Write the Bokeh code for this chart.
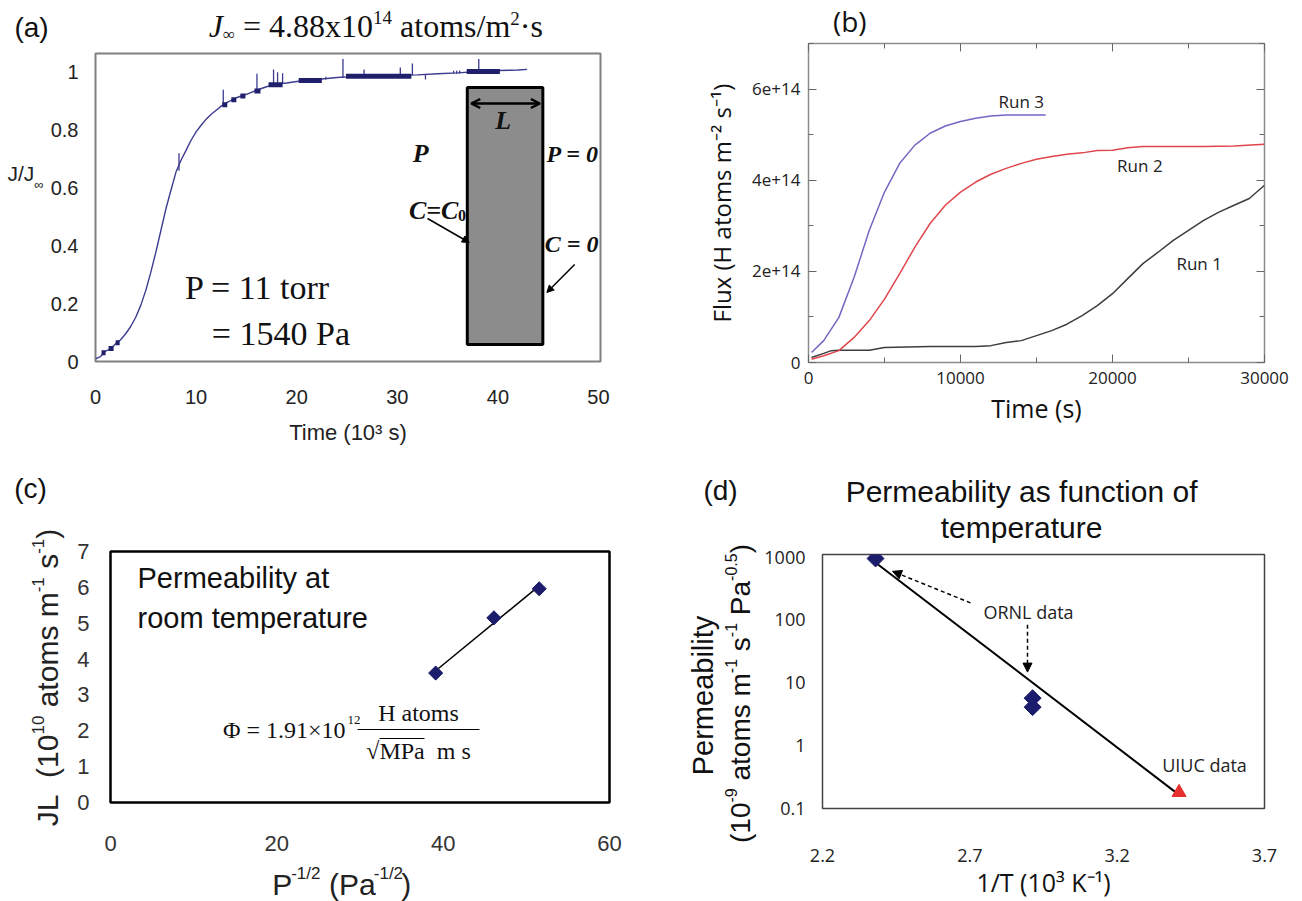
import numpy as np
from bokeh.plotting import figure
from bokeh.layouts import row, column
from bokeh.models import (Range1d, LinearAxis, FixedTicker, CustomJSTickFormatter,
                          Label, Arrow, NormalHead, OpenHead, BoxAnnotation, Spacer)
from bokeh.embed import file_html
from bokeh.resources import INLINE

# ---------------- data ----------------
# (a) normalised permeation flux J/J_inf vs time (10^3 s)
a_time = [0, 0.5, 1, 1.5, 2, 2.5, 3, 3.5, 4, 4.5, 5, 5.5, 6, 6.5, 7, 7.5, 8, 8.5, 9, 9.5, 10,
          10.5, 11, 11.5, 12, 12.5, 13, 14, 15, 16, 17, 18, 19, 20, 22, 24, 26, 28, 30, 32,
          34, 36, 38, 40, 42, 42.9]
a_ratio = [0.009, 0.017, 0.036, 0.044, 0.061, 0.075, 0.096, 0.121, 0.153, 0.194, 0.246,
           0.309, 0.378, 0.453, 0.528, 0.592, 0.655, 0.696, 0.730, 0.765, 0.794, 0.817,
           0.838, 0.855, 0.869, 0.883, 0.894, 0.912, 0.924, 0.938, 0.950, 0.959, 0.963,
           0.968, 0.975, 0.982, 0.986, 0.989, 0.990, 0.991, 0.995, 0.998, 1.003, 1.006,
           1.008, 1.010]
a_err_t = [8.3, 12.7, 16.05, 17.7, 18.1, 18.6, 22.9, 24.6, 26.7, 30.3, 31.5, 32.8, 35.6, 35.9, 36.2, 38.1]
a_err_lo = [0.66, 0.885, 0.935, 0.955, 0.958, 0.96, 0.975, 0.98, 0.985, 0.99, 0.99, 0.975, 0.995, 0.995, 0.996, 1.0]
a_err_hi = [0.72, 0.94, 0.995, 1.01, 1.0, 0.997, 0.985, 1.046, 1.01, 1.017, 1.03, 0.992, 1.005, 1.005, 1.006, 1.046]
a_band_t0 = [0.6, 1.3, 2.0, 12.6, 13.5, 14.4, 15.8, 17.2, 20.2, 24.9, 36.9]
a_band_t1 = [1.0, 1.8, 2.4, 13.1, 14.0, 14.9, 16.4, 18.6, 22.5, 31.4, 40.2]
a_band_y = [0.03, 0.045, 0.065, 0.888, 0.905, 0.918, 0.935, 0.957, 0.972, 0.986, 1.003]
a_xticks = [0, 10, 20, 30, 40, 50]
a_yticks = [0, 0.2, 0.4, 0.6, 0.8, 1.0]

# (b) flux (units of 1e14 H atoms m^-2 s^-1) vs time (s)
run1_t = [200, 1000, 1500, 2000, 4000, 5000, 8000, 11000, 12000, 13000, 14000, 15000, 16000,
          17000, 18000, 19000, 20000, 21000, 22000, 23000, 24000, 25000, 26000, 27000, 28000,
          29000, 30000]
run1_flux_1e14 = [0.11, 0.20, 0.26, 0.27, 0.27, 0.33, 0.35, 0.35, 0.37, 0.44, 0.48, 0.59, 0.70,
                  0.84, 1.03, 1.25, 1.51, 1.84, 2.17, 2.42, 2.68, 2.90, 3.12, 3.30, 3.45, 3.60, 3.89]
run2_t = [200, 1000, 2000, 3000, 4000, 5000, 6000, 7000, 8000, 9000, 10000, 11000, 12000, 13000,
          14000, 15000, 16000, 17000, 18000, 19000, 20000, 21000, 22000, 24000, 26000, 28000, 30000]
run2_flux_1e14 = [0.07, 0.15, 0.26, 0.55, 0.92, 1.39, 1.95, 2.53, 3.05, 3.45, 3.74, 3.96, 4.13,
                  4.26, 4.37, 4.46, 4.52, 4.57, 4.60, 4.65, 4.66, 4.71, 4.74, 4.74, 4.74, 4.75, 4.79]
run3_t = [200, 1000, 2000, 3000, 4000, 5000, 6000, 7000, 8000, 9000, 10000, 11000, 12000, 13000,
          14000, 15600]
run3_flux_1e14 = [0.22, 0.48, 0.99, 1.87, 2.90, 3.74, 4.37, 4.77, 5.03, 5.19, 5.29, 5.36, 5.41,
                  5.43, 5.43, 5.43]
run_names = ["Run 1", "Run 2", "Run 3"]
run_label_t = [25700, 21800, 14000]
run_label_f_1e14 = [2.18, 4.33, 5.73]
b_xticks = [0, 10000, 20000, 30000]
b_xminor = [5000, 15000, 25000]
b_yticks_1e14 = [0, 2, 4, 6]
b_yminor_1e14 = [1, 3, 5, 7]

# (c) JL (1e10 atoms m^-1 s^-1) vs P^-1/2 (Pa^-1/2)
c_x = [39.1, 46.1, 51.55]
c_y = [3.61, 5.15, 5.96]
c_xticks = [0, 20, 40, 60]
c_yticks = [0, 1, 2, 3, 4, 5, 6, 7]

# (d) permeability vs 1/T
d_ornl_x = [2.38, 2.913, 2.913]
d_ornl_y = [950, 5.7, 4.1]
d_uiuc_x = [3.41]
d_uiuc_y = [0.18]
d_fit_x = [2.385, 3.41]
d_fit_y = [786, 0.165]
d_xticks = [2.2, 2.7, 3.2, 3.7]
d_yticks = [0.1, 1, 10, 100, 1000]

SANS = "Liberation Sans"
SERIF = "Liberation Serif"
MYR = "Open Sans"
NB = "\u00a0"

# approximate advance widths (1/1000 em) used to chain text runs
ARIAL = {' ': 278, NB: 278, '(': 333, ')': 333, '-': 333, '/': 278, '.': 278, 'J': 500, 'L': 556,
         'P': 667, 'a': 556, 't': 278, 'o': 556, 'm': 833, 's': 500, '\u221e': 584}
TIMES = {' ': 250, '=': 564, '.': 250, 'x': 500, 'a': 444, 't': 278, 'o': 500, 'm': 778,
         's': 389, '/': 278, '\u00b7': 250, 'J': 444, '\u221e': 713, 'C': 667}
for _d in "0123456789":
    ARIAL[_d] = 556
    TIMES[_d] = 500


def to_data(G, px, py):
    x = G["x0"] + (px - G["L"]) / (G["R"] - G["L"]) * (G["x1"] - G["x0"])
    f = (G["B"] - py) / (G["B"] - G["T"])
    if G.get("log"):
        l0, l1 = np.log10(G["y0"]), np.log10(G["y1"])
        y = 10 ** (l0 + f * (l1 - l0))
    else:
        y = G["y0"] + f * (G["y1"] - G["y0"])
    return float(x), float(y)


def make_fig(G):
    ox, oy, w, h = G["ox"], G["oy"], G["w"], G["h"]
    p = figure(width=w, height=h, output_backend="svg", toolbar_location=None, title=None,
               x_range=Range1d(G["x0"], G["x1"]), y_range=Range1d(G["y0"], G["y1"]),
               y_axis_type="log" if G.get("log") else "linear",
               min_border_left=G["L"] - ox, min_border_right=ox + w - G["R"],
               min_border_top=G["T"] - oy, min_border_bottom=oy + h - G["B"],
               background_fill_color="white", border_fill_color="white")
    p.grid.visible = False
    return p


def strip(ox, oy, w, h):
    """A text-only panel whose frame is the whole canvas (page pixels, y downwards)."""
    G = dict(ox=ox, oy=oy, w=w, h=h, L=ox, R=ox + w, T=oy, B=oy + h, x0=0, x1=w, y0=h, y1=0)
    p = figure(width=w, height=h, output_backend="svg", toolbar_location=None, title=None,
               x_range=Range1d(0, w), y_range=Range1d(h, 0),
               x_axis_location=None, y_axis_location=None,
               min_border_left=0, min_border_right=0, min_border_top=0, min_border_bottom=0,
               background_fill_color="white", border_fill_color="white")
    p.outline_line_color = None
    p.grid.visible = False
    return p, G


def style_axis(ax, font, size, color, standoff, tick_in=0, minor_in=0, tick_color=None):
    ax.axis_line_color = None
    ax.major_tick_in = tick_in
    ax.major_tick_out = 0
    ax.minor_tick_in = minor_in
    ax.minor_tick_out = 0
    ax.major_tick_line_color = tick_color
    ax.minor_tick_line_color = tick_color
    ax.major_label_text_font = font
    ax.major_label_text_font_size = f"{size}px"
    ax.major_label_text_color = color
    ax.major_label_standoff = standoff


def axis_title(ax, text, font, size, standoff, color="#111111"):
    ax.axis_label = text
    ax.axis_label_text_font = font
    ax.axis_label_text_font_size = f"{size}px"
    ax.axis_label_text_font_style = "normal"
    ax.axis_label_text_color = color
    ax.axis_label_standoff = standoff


def put(p, G, px, py, text, size, font, color="#111111", align="center",
        baseline="middle", style="normal", angle=0.0):
    x, y = to_data(G, px, py)
    p.add_layout(Label(x=x, y=y, text=text, text_font=font, text_font_size=f"{size}px",
                       text_color=color, text_align=align, text_baseline=baseline,
                       text_font_style=style, angle=angle))


def compose(p, G, runs, px, py, font, table, color="#111111", anchor="left", vertical=False):
    """Chain text runs (text, size, raise, style) along a line whose middle is at py
    (or px when vertical); px/py = start, or centre when anchor == 'center'."""
    def w_of(t, s):
        return sum(table.get(ch, 550) for ch in t) * s / 1000.0
    widths = [w_of(t, s) for t, s, _, _ in runs]
    total = sum(widths)
    cur = (px if not vertical else py)
    cur = cur - total / 2 if (anchor == "center" and not vertical) else cur
    cur = cur + total / 2 if (anchor == "center" and vertical) else cur
    for (t, s, sh, st), w in zip(runs, widths):
        txt = t.lstrip(" ")
        lead = w_of(t[:len(t) - len(txt)], s)
        if not vertical:
            put(p, G, cur + lead, py - sh, txt, s, font, color=color, align="left", style=st)
            cur += w
        else:
            put(p, G, px - sh, cur - lead, txt, s, font, color=color, align="left", style=st,
                angle=np.pi / 2)
            cur -= w


def arrow(p, G, p0, p1, end, start=None, width=1.5, dash="solid", color="black"):
    x0, y0 = to_data(G, *p0)
    x1, y1 = to_data(G, *p1)
    p.add_layout(Arrow(x_start=x0, y_start=y0, x_end=x1, y_end=y1, end=end, start=start,
                       line_width=width, line_dash=dash, line_color=color))


# page geometry: figure origin/size and frame edges in page pixels
GA = dict(ox=47, oy=51, w=603, h=399, L=92, R=600, T=53, B=361, x0=0, x1=50.2, y0=0, y1=1.065)
GB = dict(ox=650, oy=41, w=652, h=409, L=808, R=1264, T=43, B=362, x0=0, x1=30000, y0=0, y1=7e14)
GC = dict(ox=70, oy=535, w=580, h=330, L=110, R=609, T=551, B=802, x0=0, x1=60, y0=0, y1=7)
GD = dict(ox=758, oy=543, w=544, h=358, L=822, R=1264, T=554, B=811, x0=2.2, x1=3.7,
          y0=0.1, y1=1100, log=True)

# ---------------- panel (a) ----------------
pa = make_fig(GA)
pa.outline_line_color = "#808080"
pa.outline_line_width = 2
xa, ya = pa.below[0], pa.left[0]
xa.ticker = FixedTicker(ticks=a_xticks, minor_ticks=[])
ya.ticker = FixedTicker(ticks=a_yticks, minor_ticks=[])
ya.formatter = CustomJSTickFormatter(code="return tick.toFixed(1).replace(/\\.0$/, '');")
style_axis(xa, SANS, 20, "#222222", 28)
style_axis(ya, SANS, 20, "#222222", 17)
axis_title(xa, "Time (10\u00b3 s)", SANS, 22, 13, color="#222222")

navy = "#3b3b8f"
pa.line(a_time, a_ratio, line_color=navy, line_width=1.4)
pa.segment(x0=a_err_t, y0=a_err_lo, x1=a_err_t, y1=a_err_hi, line_color=navy, line_width=1.3)
pa.segment(x0=a_band_t0, y0=a_band_y, x1=a_band_t1, y1=a_band_y, line_color="#1f1f6b", line_width=5)

# schematic of the membrane
bl, bt = to_data(GA, 466, 87)
br, bb = to_data(GA, 542, 344)
pa.add_layout(BoxAnnotation(left=bl, right=br, top=bt, bottom=bb, fill_color="#8c8c8c",
                            fill_alpha=1.0, line_color="black", line_width=3, line_alpha=1.0))
arrow(pa, GA, (470, 103), (539, 103), end=OpenHead(size=9, line_width=2.5),
      start=OpenHead(size=9, line_width=2.5), width=2.5)
arrow(pa, GA, (426, 218), (468, 242), end=NormalHead(size=7, fill_color="black", line_color="black"))
arrow(pa, GA, (574, 264), (546, 292), end=NormalHead(size=7, fill_color="black", line_color="black"))
put(pa, GA, 502, 120, "L", 26, SERIF, style="bold italic")
put(pa, GA, 419, 153, "P", 26, SERIF, style="bold italic")
put(pa, GA, 572, 153, "P = 0", 24, SERIF, style="bold italic")
compose(pa, GA, [("C=C", 26, 0, "bold italic"), ("0", 16, -5, "bold")], 436, 210, SERIF, TIMES,
        anchor="center")
put(pa, GA, 571, 243, "C = 0", 24, SERIF, style="bold italic")
put(pa, GA, 182, 287, "P = 11 torr", 34, SERIF, align="left")
put(pa, GA, 209, 333, "= 1540 Pa", 34, SERIF, align="left")

a_top, GAT = strip(0, 0, 650, 51)
put(a_top, GAT, 31, 27, "(a)", 28, SANS)
compose(a_top, GAT, [("J", 32, 0, "italic"), ("\u221e", 17, -9, "normal"), (" = 4.88x10", 32, 0, "normal"),
                     ("14", 19, 8, "normal"), (" atoms/m", 32, 0, "normal"), ("2", 19, 7, "normal"),
                     ("\u00b7s", 32, 0, "normal")], 374, 25, SERIF, TIMES, anchor="center")
a_left, GAL = strip(0, 51, 47, 399)
compose(a_left, GAL, [("J/J", 21, 0, "normal"), ("\u221e", 13, -15, "normal")], 7, 206, SANS, ARIAL,
        color="#222222")

# ---------------- panel (b) ----------------
pb = make_fig(GB)
pb.outline_line_color = "#8c8c8c"
pb.outline_line_width = 1.5
xt = FixedTicker(ticks=b_xticks, minor_ticks=b_xminor)
yt = FixedTicker(ticks=[v * 1e14 for v in b_yticks_1e14], minor_ticks=[v * 1e14 for v in b_yminor_1e14])
xb, yb = pb.below[0], pb.left[0]
xb.ticker = xt
yb.ticker = yt
yb.formatter = CustomJSTickFormatter(code="return tick == 0 ? '0' : Math.round(tick/1e14) + 'e+14';")
style_axis(xb, MYR, 17, "#222222", 9, tick_in=8, minor_in=5, tick_color="#666666")
style_axis(yb, MYR, 17, "#222222", 8, tick_in=8, minor_in=5, tick_color="#666666")
blank = CustomJSTickFormatter(code="return '';")
top_ax = LinearAxis(ticker=xt, formatter=blank)
right_ax = LinearAxis(ticker=yt, formatter=blank)
for ax in (top_ax, right_ax):
    style_axis(ax, MYR, 1, "#222222", 0, tick_in=8, minor_in=5, tick_color="#666666")
pb.add_layout(top_ax, "above")
pb.add_layout(right_ax, "right")
axis_title(xb, "Time (s)", MYR, 25, 4)
axis_title(yb, "Flux (H atoms m\u207b\u00b2 s\u207b\u00b9)", MYR, 24, 11)

run_colors = ["#3d3d3d", "#e0474c", "#7268c4"]
for t, f, c in ((run1_t, run1_flux_1e14, run_colors[0]), (run2_t, run2_flux_1e14, run_colors[1]),
                (run3_t, run3_flux_1e14, run_colors[2])):
    pb.line(t, np.array(f) * 1e14, line_color=c, line_width=1.5)
for name, t, f in zip(run_names, run_label_t, run_label_f_1e14):
    pb.add_layout(Label(x=t, y=f * 1e14, text=name, text_font=MYR, text_font_size="17px",
                        text_color="#222222", text_align="center", text_baseline="middle"))
b_top, GBT = strip(650, 0, 652, 41)
put(b_top, GBT, 709, 20, "(b)", 28, MYR)

# ---------------- panel (c) ----------------
pc = make_fig(GC)
pc.outline_line_color = "black"
pc.outline_line_width = 2.5
xc, yc = pc.below[0], pc.left[0]
xc.ticker = FixedTicker(ticks=c_xticks, minor_ticks=[])
yc.ticker = FixedTicker(ticks=c_yticks, minor_ticks=[])
style_axis(xc, SANS, 22, "#333333", 33)
style_axis(yc, SANS, 22, "#333333", 21)

coef = np.polyfit(c_x, c_y, 1)
fit_x = [min(c_x), max(c_x)]
pc.line(fit_x, np.polyval(coef, fit_x), line_color="black", line_width=1.5)
pc.scatter(c_x, c_y, marker="square", angle=np.pi / 4, size=10, fill_color="#1c1c6c",
           line_color="#1c1c6c")
put(pc, GC, 137, 577, "Permeability at", 29, SANS, align="left")
put(pc, GC, 137, 617, "room temperature", 29, SANS, align="left")
put(pc, GC, 345, 729, "\u03a6 = 1.91\u00d710", 24, SERIF, align="right")
put(pc, GC, 347, 719, "12", 13, SERIF, align="left")
put(pc, GC, 418, 712, "H atoms", 24, SERIF)
put(pc, GC, 418, 750, "\u221aMPa" + NB + NB + "m s", 24, SERIF)
arrow(pc, GC, (357, 729), (479, 729), end=None, width=1.2)
arrow(pc, GC, (379, 738), (424, 738), end=None, width=1.0)

c_left, GCL = strip(0, 450, 70, 451)
put(c_left, GCL, 30, 488, "(c)", 28, SANS)
compose(c_left, GCL, [("JL" + NB + NB + "(10", 30, 0, "normal"), ("10", 17, 10, "normal"),
                      (" atoms m", 30, 0, "normal"), ("-1", 17, 10, "normal"), (" s", 30, 0, "normal"),
                      ("-1", 17, 10, "normal"), (")", 30, 0, "normal")], 47, 677, SANS, ARIAL,
        color="#222222", anchor="center", vertical=True)
c_bot, GCB = strip(70, 865, 580, 36)
# x-axis title pieces anchored where they sit in the reference
for px_, py_, txt_, sz_ in ((258, 884, "P", 30), (280, 873, "-1/2", 17), (324, 884, "(Pa", 30),
                            (376, 873, "-1/2", 17), (408, 884, ")", 30)):
    put(c_bot, GCB, px_, py_, txt_, sz_, SANS, color="#222222", align="left")

# ---------------- panel (d) ----------------
pd = make_fig(GD)
pd.outline_line_color = "#444444"
pd.outline_line_width = 1.5
xd, yd = pd.below[0], pd.left[0]
xd.ticker = FixedTicker(ticks=d_xticks, minor_ticks=[])
yd.ticker = FixedTicker(ticks=d_yticks, minor_ticks=[])
yd.formatter = CustomJSTickFormatter(code="return String(Number(tick.toPrecision(3)));")
style_axis(xd, MYR, 18, "#222222", 40)
style_axis(yd, MYR, 18, "#222222", 17)
axis_title(xd, "1/T (10\u00b3 K\u207b\u00b9)", MYR, 25, 0)

pd.line(d_fit_x, d_fit_y, line_color="black", line_width=2)
pd.scatter(d_ornl_x, d_ornl_y, marker="square", angle=np.pi / 4, size=12, fill_color="#1c1c6c",
           line_color="#1c1c6c")
pd.scatter(d_uiuc_x, d_uiuc_y, marker="triangle", size=14, fill_color="#e8302e",
           line_color="#e8302e")
arrow(pd, GD, (970, 603), (892, 571), end=NormalHead(size=9, fill_color="black", line_color="black"),
      dash="4 3")
arrow(pd, GD, (1027, 625), (1027, 673), end=NormalHead(size=9, fill_color="black", line_color="black"),
      dash="4 3")
put(pd, GD, 1028, 612, "ORNL data", 18, MYR, color="#222222")
put(pd, GD, 1204, 767, "UIUC data", 18, MYR, color="#222222")

d_left, GDL = strip(650, 450, 108, 451)
put(d_left, GDL, 720, 490, "(d)", 28, SANS)
put(d_left, GDL, 702, 695, "Permeability", 29, SANS, angle=np.pi / 2)
compose(d_left, GDL, [("(10", 28, 0, "normal"), ("-9", 16, 10, "normal"), (" atoms m", 28, 0, "normal"),
                      ("-1", 16, 10, "normal"), (" s", 28, 0, "normal"), ("-1", 16, 10, "normal"),
                      (" Pa", 28, 0, "normal"), ("-0.5", 16, 10, "normal"), (")", 28, 0, "normal")],
        740, 693, SANS, ARIAL, color="#111111", anchor="center", vertical=True)
d_top, GDT = strip(758, 450, 544, 93)
put(d_top, GDT, 1003, 491, "Permeability as function of", 30, SANS)
put(d_top, GDT, 1003, 527, "temperature", 30, SANS)

left_col = column(a_top, row(a_left, pa),
                  row(c_left, column(Spacer(width=580, height=85), pc, c_bot)))
right_col = column(b_top, pb, row(d_left, column(d_top, pd)))
layout = row(left_col, right_col)
open("out.html", "w").write(file_html(layout, INLINE))
